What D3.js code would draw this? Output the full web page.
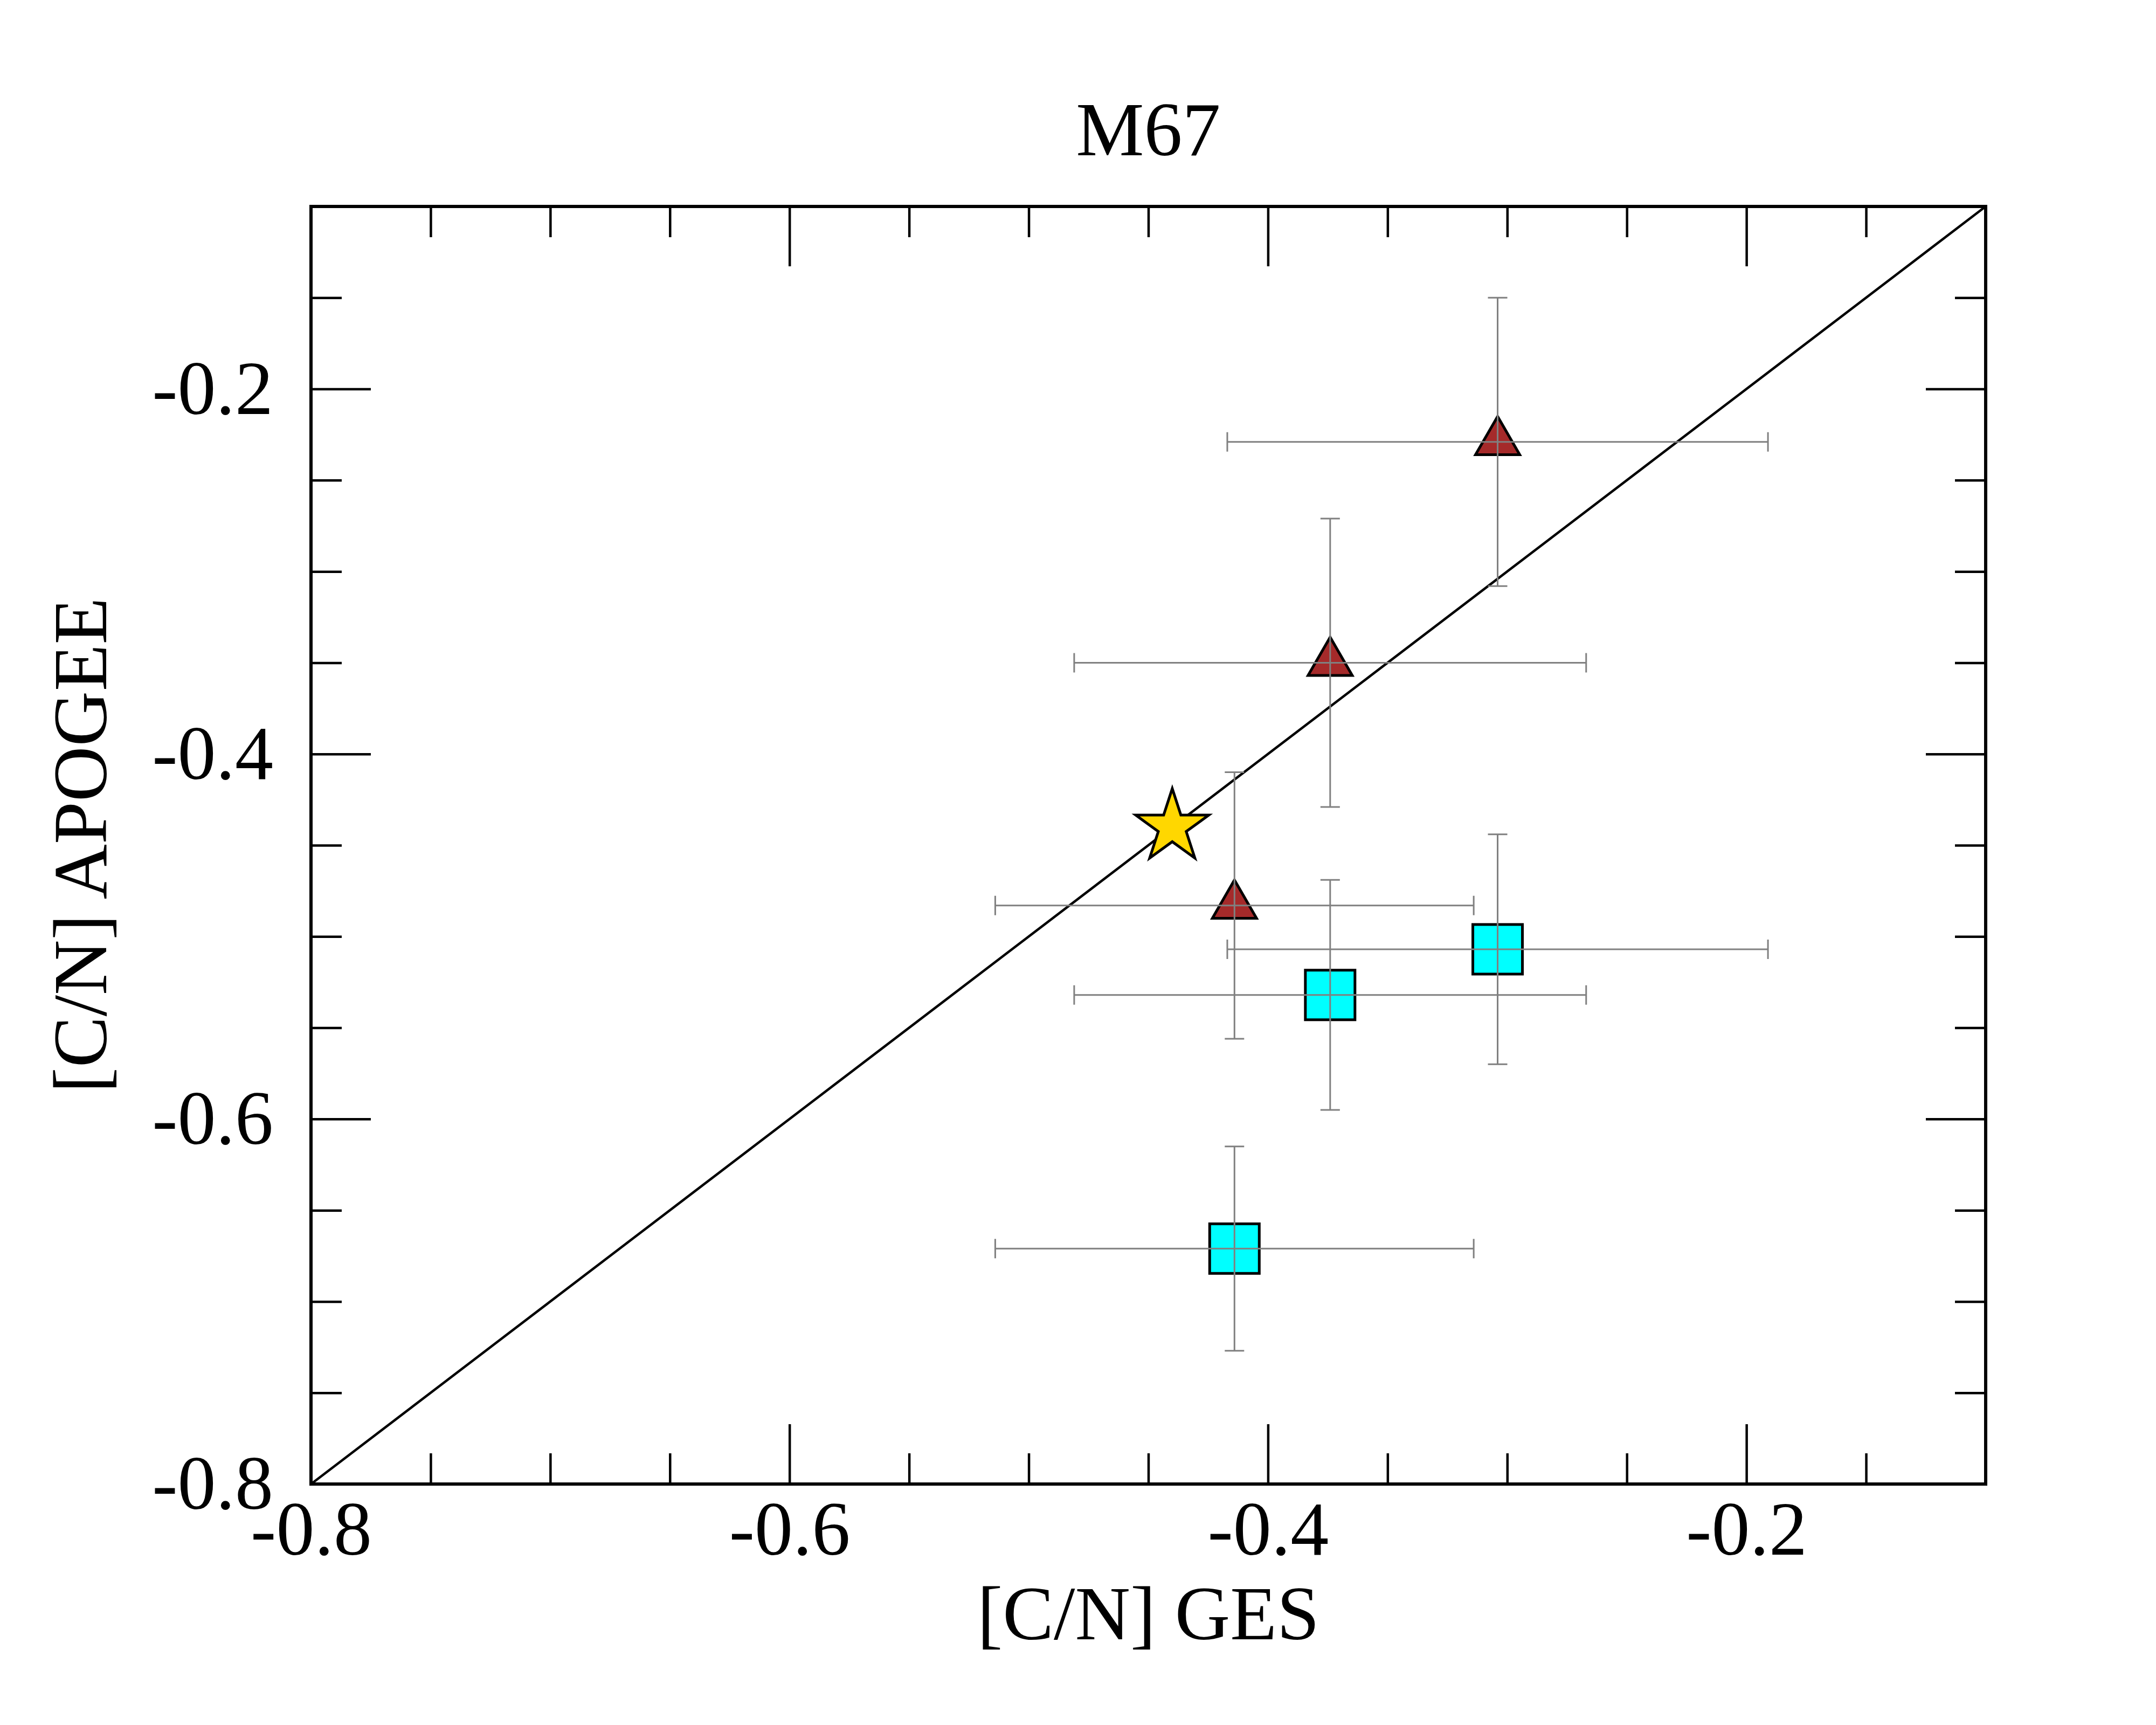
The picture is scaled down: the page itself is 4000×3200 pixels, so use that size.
<!DOCTYPE html>
<html>
<head>
<meta charset="utf-8">
<script src="https://cdn.jsdelivr.net/npm/d3@7"></script>
<style>
  body { margin: 0; background: #fff; }
  text { font-family: "Liberation Serif", "Times New Roman", serif; }
</style>
</head>
<body>
<div id="result"></div>
<script>
// data
const triX = [-0.304, -0.374, -0.414];
const triY = [-0.229, -0.350, -0.483];
const triXerr = [0.113, 0.107, 0.100];
const triYerr = [0.079, 0.079, 0.073];

const sqX = [-0.304, -0.374, -0.414];
const sqY = [-0.507, -0.532, -0.671];
const sqXerr = [0.113, 0.107, 0.100];
const sqYerr = [0.063, 0.063, 0.056];

const starX = [-0.44];
const starY = [-0.44];

const oneToOne = [-0.8, -0.1];

const majorTicks = [-0.8, -0.6, -0.4, -0.2];
const minorTicks = [-0.75, -0.7, -0.65, -0.55, -0.5, -0.45, -0.35, -0.3, -0.25, -0.15, -0.1];

const width = 4000, height = 3200;
const margin = { top: 383, right: 316, bottom: 447, left: 577 };
const w = width - margin.left - margin.right,
    h = height - margin.top - margin.bottom;
const fontSize = "142px";

const svg = d3.select("#result")
    .append("svg")
    .attr("width", width)
    .attr("height", height);

const g = svg.append("g")
    .attr("transform", "translate(" + margin.left + "," + margin.top + ")");

const x = d3.scaleLinear().domain([-0.8, -0.1]).range([0, w]);
const y = d3.scaleLinear().domain([-0.8, -0.1]).range([h, 0]);

g.append("clipPath").attr("id", "clip")
    .append("rect").attr("width", w).attr("height", h);

// 1:1 line
g.append("path")
    .datum(oneToOne)
    .attr("clip-path", "url(#clip)")
    .attr("fill", "none")
    .attr("stroke", "black")
    .attr("stroke-width", 4.5)
    .attr("d", d3.line().x(function (d) { return x(d) }).y(function (d) { return y(d) }));

function rows(xs, ys, xe, ye) {
    return xs.map(function (v, i) {
        return { x: v, y: ys[i], xe: xe ? xe[i] : 0, ye: ye ? ye[i] : 0 };
    });
}
const tris = rows(triX, triY, triXerr, triYerr);
const squares = rows(sqX, sqY, sqXerr, sqYerr);
const stars = rows(starX, starY);

function drawSymbols(data, type, size, fill) {
    g.append("g").selectAll("path")
        .data(data)
        .join("path")
        .attr("transform", function (d) { return "translate(" + x(d.x) + "," + y(d.y) + ")"; })
        .attr("d", d3.symbol(type, size))
        .attr("fill", fill)
        .attr("stroke", "black")
        .attr("stroke-width", 5);
}

drawSymbols(tris, d3.symbolTriangle, 2912, "#a52a2a");
drawSymbols(squares, d3.symbolSquare, 8464, "#00ffff");

// error bars, drawn over the symbols
const cap = 18;
function drawErrors(data) {
    const eb = g.append("g")
        .attr("stroke", "#808080")
        .attr("stroke-width", 3)
        .attr("fill", "none");
    eb.selectAll("path")
        .data(data)
        .join("path")
        .attr("d", function (d) {
            const cx = x(d.x), cy = y(d.y);
            const x0 = x(d.x - d.xe), x1 = x(d.x + d.xe);
            const y0 = y(d.y + d.ye), y1 = y(d.y - d.ye);
            return "M" + x0 + "," + cy + "H" + x1 +
                "M" + x0 + "," + (cy - cap) + "V" + (cy + cap) +
                "M" + x1 + "," + (cy - cap) + "V" + (cy + cap) +
                "M" + cx + "," + y0 + "V" + y1 +
                "M" + (cx - cap) + "," + y0 + "H" + (cx + cap) +
                "M" + (cx - cap) + "," + y1 + "H" + (cx + cap);
        });
}
drawErrors(tris);
drawErrors(squares);

drawSymbols(stars, d3.symbolStar, 5700, "#ffd700");

// axes: major/minor ticks on all four sides, pointing inward
function styleAxis(sel) {
    sel.select(".domain").remove();
    sel.selectAll(".tick line").attr("stroke", "black").attr("stroke-width", 4.5);
    sel.selectAll("text")
        .attr("fill", "black")
        .style("font-size", fontSize);
}
// plain hyphen, as in the original
const fmt = function (d) { return d.toFixed(1); };

g.append("g").attr("transform", "translate(0," + h + ")")
    .call(d3.axisBottom(x).tickValues(majorTicks).tickSize(-111).tickSizeOuter(0).tickPadding(30).tickFormat(fmt))
    .attr("font-family", null).attr("font-size", null)
    .call(styleAxis);
g.append("g").attr("transform", "translate(0," + h + ")")
    .call(d3.axisBottom(x).tickValues(minorTicks).tickSize(-57).tickSizeOuter(0).tickFormat(""))
    .call(styleAxis);
g.append("g")
    .call(d3.axisTop(x).tickValues(majorTicks).tickSize(-111).tickSizeOuter(0).tickFormat(""))
    .call(styleAxis);
g.append("g")
    .call(d3.axisTop(x).tickValues(minorTicks).tickSize(-57).tickSizeOuter(0).tickFormat(""))
    .call(styleAxis);

g.append("g")
    .call(d3.axisLeft(y).tickValues(majorTicks).tickSize(-111).tickSizeOuter(0).tickPadding(70).tickFormat(fmt))
    .attr("font-family", null).attr("font-size", null)
    .call(styleAxis);
g.append("g")
    .call(d3.axisLeft(y).tickValues(minorTicks).tickSize(-57).tickSizeOuter(0).tickFormat(""))
    .call(styleAxis);
g.append("g").attr("transform", "translate(" + w + ",0)")
    .call(d3.axisRight(y).tickValues(majorTicks).tickSize(-111).tickSizeOuter(0).tickFormat(""))
    .call(styleAxis);
g.append("g").attr("transform", "translate(" + w + ",0)")
    .call(d3.axisRight(y).tickValues(minorTicks).tickSize(-57).tickSizeOuter(0).tickFormat(""))
    .call(styleAxis);

// frame
g.append("rect")
    .attr("width", w)
    .attr("height", h)
    .attr("fill", "none")
    .attr("stroke", "black")
    .attr("stroke-width", 6);

// title and axis labels
g.append("text")
    .attr("x", w / 2)
    .attr("y", -95)
    .attr("text-anchor", "middle")
    .style("font-size", fontSize)
    .text("M67");

g.append("text")
    .attr("x", w / 2)
    .attr("y", h + 288)
    .attr("text-anchor", "middle")
    .style("font-size", fontSize)
    .text("[C/N] GES");

g.append("text")
    .attr("transform", "translate(-380," + (h / 2) + ") rotate(-90)")
    .attr("text-anchor", "middle")
    .style("font-size", fontSize)
    .text("[C/N] APOGEE");
</script>
</body>
</html>
